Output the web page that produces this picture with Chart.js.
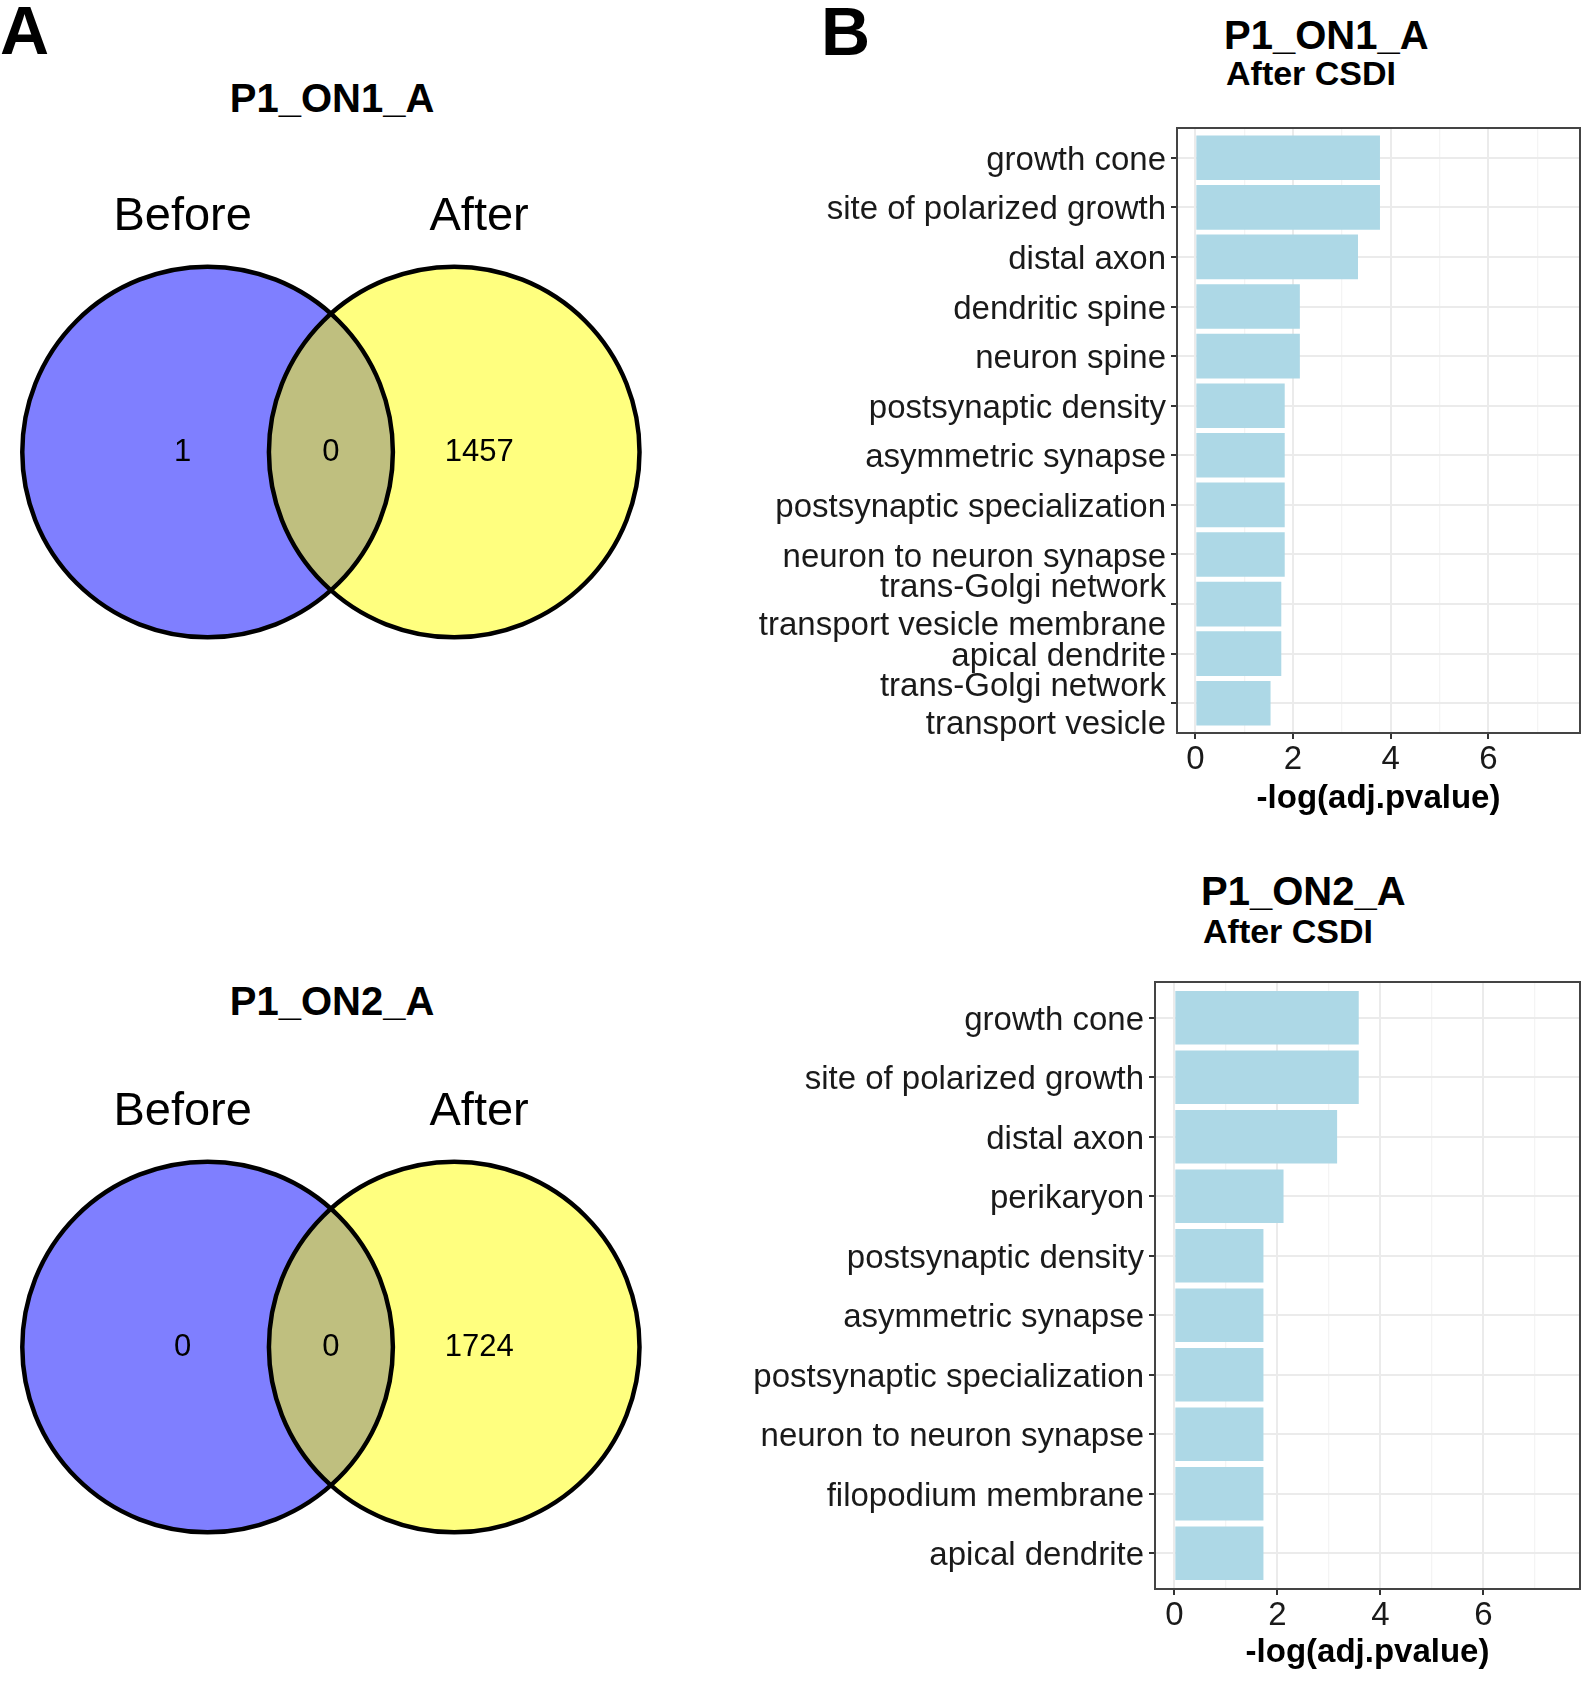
<!DOCTYPE html>
<html>
<head>
<meta charset="utf-8">
<title>Venn + GO enrichment</title>
<script src="https://cdn.jsdelivr.net/npm/chart.js@4.4.0/dist/chart.umd.min.js"></script>
<style>
  body { margin: 0; background: #fff; }
  #page { position: relative; width: 1594px; height: 1687px; overflow: hidden;
          font-family: "Liberation Sans", Arial, sans-serif; color: #000; }
  .t { position: absolute; line-height: 1; white-space: nowrap; font-weight: bold; }
  canvas { position: absolute; }
</style>
</head>
<body>
<div id="page">
  <div class="t" style="left:0;top:-4px;font-size:68px">A</div>
  <div class="t" style="left:821px;top:-3px;font-size:68px">B</div>

  <div class="t" style="left:132px;width:400px;text-align:center;top:78px;font-size:40px">P1_ON1_A</div>
  <div class="t" style="left:132px;width:400px;text-align:center;top:981px;font-size:40px">P1_ON2_A</div>

  <div class="t" style="left:1224px;top:15px;font-size:40px">P1_ON1_A</div>
  <div class="t" style="left:1226px;top:56px;font-size:34px">After CSDI</div>
  <div class="t" style="left:1201px;top:871px;font-size:40px">P1_ON2_A</div>
  <div class="t" style="left:1203px;top:914px;font-size:34px">After CSDI</div>

  <canvas id="venn1" width="680" height="500" style="left:0;top:170px"></canvas>
  <canvas id="venn2" width="680" height="500" style="left:0;top:1065px"></canvas>
  <canvas id="bars1" width="904" height="719" style="left:690px;top:100px"></canvas>
  <canvas id="bars2" width="904" height="722" style="left:690px;top:951px"></canvas>
</div>

<script>
// Venn counts: [Before only, both, After only]
const vennSets = ["Before", "After"];
const venn1Counts = [1, 0, 1457];
const venn2Counts = [0, 0, 1724];

// GO cellular component terms, After CSDI
const terms1 = [
  "growth cone",
  "site of polarized growth",
  "distal axon",
  "dendritic spine",
  "neuron spine",
  "postsynaptic density",
  "asymmetric synapse",
  "postsynaptic specialization",
  "neuron to neuron synapse",
  "trans-Golgi network\ntransport vesicle membrane",
  "apical dendrite",
  "trans-Golgi network\ntransport vesicle"
];
const scores1 = [3.78, 3.78, 3.33, 2.14, 2.14, 1.83, 1.83, 1.83, 1.83, 1.76, 1.76, 1.54];

const terms2 = [
  "growth cone",
  "site of polarized growth",
  "distal axon",
  "perikaryon",
  "postsynaptic density",
  "asymmetric synapse",
  "postsynaptic specialization",
  "neuron to neuron synapse",
  "filopodium membrane",
  "apical dendrite"
];
const scores2 = [3.58, 3.58, 3.16, 2.12, 1.73, 1.73, 1.73, 1.73, 1.73, 1.73];

const xLimits = [0, 7.5];
const xTicks = [0, 2, 4, 6];

const FONT = '"Liberation Sans", Arial, sans-serif';

// ---------- Venn diagrams ----------
// unscaled two-set venn: unit circles, labels over each set
const vennGeom = { centers: [-0.6655, 0.6655], r: 1, countX: [-0.8, 0, 0.8], nameX: [-0.8, 0.8], nameY: 1.2 };
const vennBox = { cx: 330.9, cy: 282, px: 185.3 };
const vennFill = ["rgba(0,0,255,0.5)", "rgba(255,255,0,0.5)"];

function vennText(counts) {
  return {
    id: "vennText",
    afterDatasetsDraw(chart) {
      const { ctx, scales: { x, y } } = chart;
      ctx.save();
      ctx.fillStyle = "#000";
      ctx.textAlign = "center";
      ctx.textBaseline = "alphabetic";
      ctx.font = "47px " + FONT;
      vennSets.forEach((s, i) => ctx.fillText(s, x.getPixelForValue(vennGeom.nameX[i]), y.getPixelForValue(vennGeom.nameY)));
      ctx.textBaseline = "middle";
      ctx.font = "31px " + FONT;
      counts.forEach((c, i) => ctx.fillText(String(c), x.getPixelForValue(vennGeom.countX[i]), y.getPixelForValue(0)));
      ctx.restore();
    }
  };
}

function makeVenn(id, counts) {
  const canvas = document.getElementById(id);
  const w = canvas.width, h = canvas.height;
  const pts = vennGeom.centers.map(c => ({ x: c, y: 0 }));
  const radius = ctx => {
    const s = ctx.chart.scales.x;
    return Math.abs(s.getPixelForValue(vennGeom.r) - s.getPixelForValue(0));
  };
  new Chart(canvas, {
    type: "scatter",
    data: {
      datasets: [
        { label: "outline", data: pts, pointRadius: radius, pointBackgroundColor: "rgba(0,0,0,0)",
          pointBorderColor: "#000", pointBorderWidth: 4.5, clip: false },
        { label: "fill", data: pts, pointRadius: radius, pointBackgroundColor: ctx => vennFill[ctx.dataIndex],
          pointBorderWidth: 0, clip: false }
      ]
    },
    options: {
      responsive: false, animation: false, events: [],
      layout: { padding: 0 },
      plugins: { legend: { display: false }, tooltip: { enabled: false } },
      scales: {
        x: { type: "linear", display: false, min: -vennBox.cx / vennBox.px, max: (w - vennBox.cx) / vennBox.px },
        y: { type: "linear", display: false, min: -(h - vennBox.cy) / vennBox.px, max: vennBox.cy / vennBox.px }
      }
    },
    plugins: [vennText(counts)]
  });
}

makeVenn("venn1", venn1Counts);
makeVenn("venn2", venn2Counts);

// ---------- bar charts ----------
const panelBorder = {
  id: "panelBorder",
  afterDatasetsDraw(chart) {
    const { ctx, chartArea: a } = chart;
    ctx.save();
    ctx.strokeStyle = "#444";
    ctx.lineWidth = 2;
    ctx.strokeRect(a.left, a.top, a.right - a.left, a.bottom - a.top);
    ctx.restore();
  }
};

function makeBars(id, terms, scores, lay) {
  const span = xLimits[1] - xLimits[0];
  const isMajor = v => xTicks.includes(v);
  new Chart(document.getElementById(id), {
    type: "bar",
    data: {
      datasets: [{
        data: scores.map((v, i) => ({ x: v, y: i })),
        backgroundColor: "#ADD8E6",
        borderWidth: 0,
        barPercentage: 0.9,
        categoryPercentage: 1
      }]
    },
    options: {
      indexAxis: "y",
      responsive: false, animation: false, events: [],
      layout: { padding: { top: lay.top, right: 14, left: 0, bottom: 0 } },
      plugins: { legend: { display: false }, tooltip: { enabled: false } },
      scales: {
        x: {
          type: "linear",
          bounds: "data",
          offset: false,
          min: xLimits[0] - 0.05 * span,
          max: xLimits[1] + 0.05 * span,
          afterBuildTicks: s => {
            const t = [];
            for (let v = Math.ceil(s.min); v <= s.max; v++) t.push({ value: v });
            s.ticks = t;
          },
          border: { display: false },
          grid: {
            offset: false,
            color: c => (c.tick && isMajor(c.tick.value)) ? "#EBEBEB" : "#F4F4F4",
            lineWidth: c => (c.tick && isMajor(c.tick.value)) ? 2 : 1.3,
            tickColor: c => (c.tick && isMajor(c.tick.value)) ? "#333" : "rgba(0,0,0,0)",
            tickLength: 6,
            tickWidth: 2
          },
          ticks: {
            autoSkip: false,
            maxRotation: 0,
            padding: 4.5,
            color: "#1a1a1a",
            font: { family: FONT, size: 33, lineHeight: 1 },
            callback: v => isMajor(v) ? String(v) : ""
          },
          title: {
            display: true,
            text: "-log(adj.pvalue)",
            color: "#000",
            padding: 0,
            font: { family: FONT, size: 33, weight: "bold", lineHeight: 1.2 }
          },
          afterFit: s => { s.height = lay.xh; s.paddingLeft = 0; s.paddingRight = 0; }
        },
        y: {
          type: "linear",
          bounds: "data",
          offset: false,
          reverse: true,
          min: -0.6,
          max: terms.length - 1 + 0.6,
          afterBuildTicks: s => { s.ticks = terms.map((t, i) => ({ value: i })); },
          border: { display: false },
          grid: { offset: false, color: "#EBEBEB", lineWidth: 2, tickColor: "#333", tickLength: 6, tickWidth: 2 },
          ticks: {
            autoSkip: false,
            padding: 5,
            labelOffset: 3,
            color: "#1a1a1a",
            font: { family: FONT, size: 33, lineHeight: 1.15 },
            callback: v => terms[v].split("\n")
          },
          afterFit: s => { s.width = lay.yw; s.paddingTop = 0; s.paddingBottom = 0; }
        }
      }
    },
    plugins: [panelBorder]
  });
}

makeBars("bars1", terms1, scores1, { top: 28, yw: 487, xh: 86 });
makeBars("bars2", terms2, scores2, { top: 31, yw: 465, xh: 84 });
</script>
</body>
</html>
